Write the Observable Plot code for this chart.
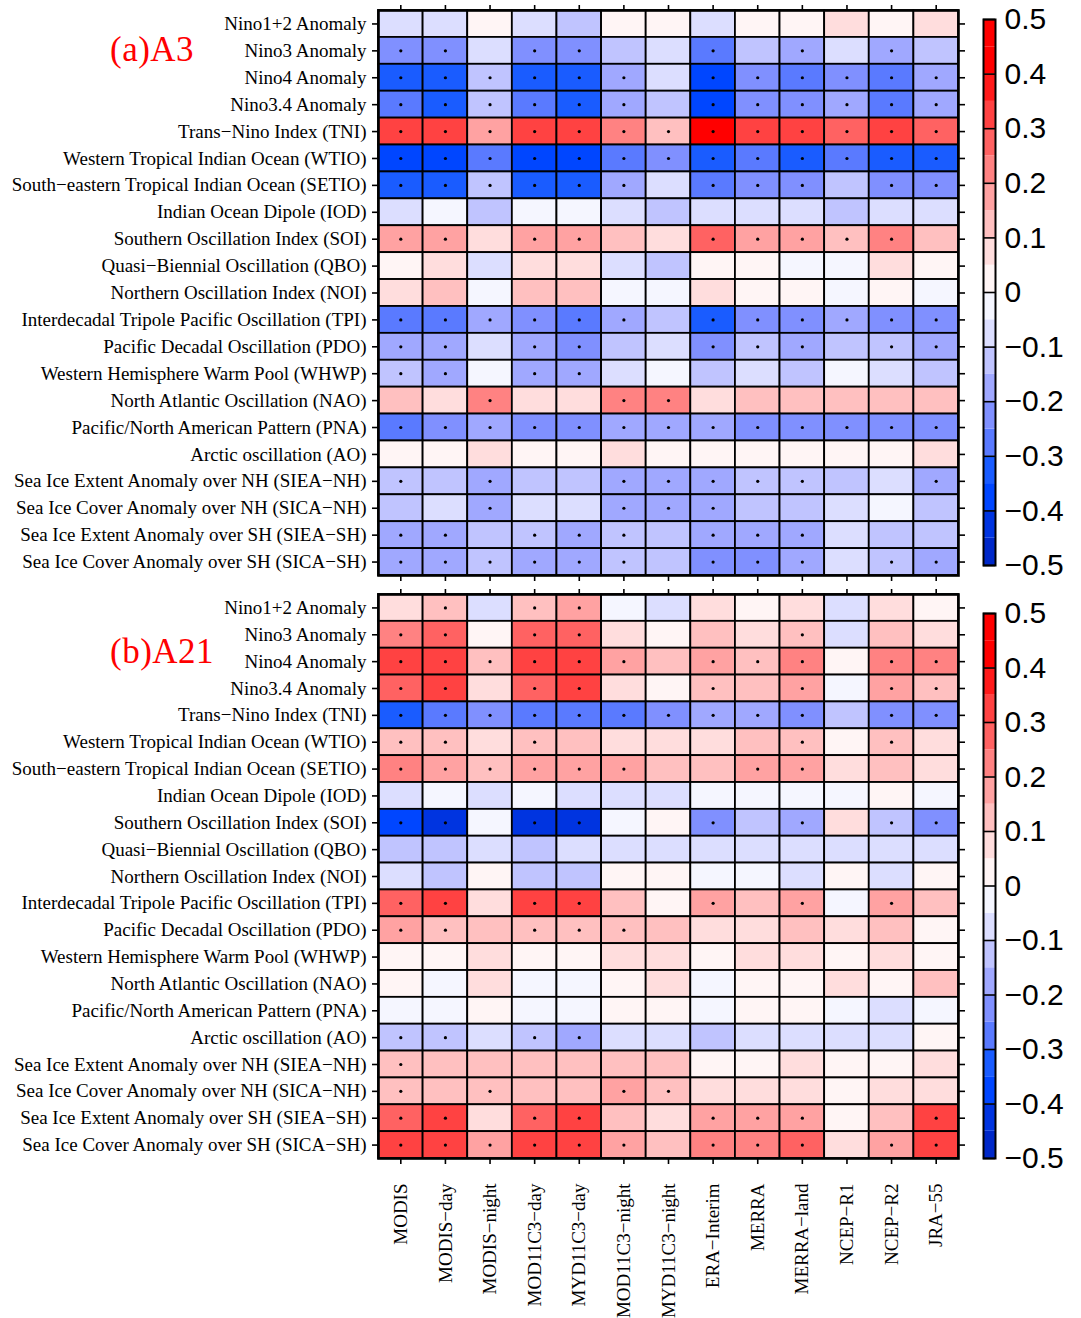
<!DOCTYPE html>
<html>
<head>
<meta charset="utf-8">
<script src="https://cdn.jsdelivr.net/npm/d3@7"></script>
<script src="https://cdn.jsdelivr.net/npm/@observablehq/plot@0.6"></script>
<style>
  body { margin: 0; background: #fff; }
  #fig { position: relative; width: 1081px; height: 1318px; overflow: hidden; background: #fff; }
  #fig > * { position: absolute; }
  .plabel { font-family: "Liberation Serif", "Times New Roman", serif; color: #ff0000; font-size: 35px; letter-spacing: 0.5px; line-height: 1; white-space: nowrap; }
</style>
</head>
<body>
<div id="fig"></div>
<script>
// ---------------- data ----------------
const datasets = ["MODIS", "MODIS−day", "MODIS−night", "MOD11C3−day", "MYD11C3−day", "MOD11C3−night",
  "MYD11C3−night", "ERA−Interim", "MERRA", "MERRA−land", "NCEP−R1", "NCEP−R2", "JRA−55"];

const indices = ["Nino1+2 Anomaly", "Nino3 Anomaly", "Nino4 Anomaly", "Nino3.4 Anomaly",
  "Trans−Nino Index (TNI)", "Western Tropical Indian Ocean (WTIO)", "South−eastern Tropical Indian Ocean (SETIO)",
  "Indian Ocean Dipole (IOD)", "Southern Oscillation Index (SOI)", "Quasi−Biennial Oscillation (QBO)",
  "Northern Oscillation Index (NOI)", "Interdecadal Tripole Pacific Oscillation (TPI)", "Pacific Decadal Oscillation (PDO)",
  "Western Hemisphere Warm Pool (WHWP)", "North Atlantic Oscillation (NAO)", "Pacific/North American Pattern (PNA)",
  "Arctic oscillation (AO)", "Sea Ice Extent Anomaly over NH (SIEA−NH)", "Sea Ice Cover Anomaly over NH (SICA−NH)",
  "Sea Ice Extent Anomaly over SH (SIEA−SH)", "Sea Ice Cover Anomaly over SH (SICA−SH)"];

// correlation values, rows = indices, columns = datasets
const a3Values = [
  [-0.07,-0.07, 0.02,-0.07,-0.12, 0.02, 0.02,-0.07, 0.02, 0.02, 0.07, 0.02, 0.07],
  [-0.23,-0.23,-0.07,-0.23,-0.22,-0.12,-0.07,-0.28,-0.13,-0.18,-0.07,-0.18,-0.13],
  [-0.33,-0.33,-0.13,-0.33,-0.33,-0.18,-0.07,-0.38,-0.23,-0.28,-0.23,-0.28,-0.18],
  [-0.28,-0.33,-0.13,-0.28,-0.33,-0.18,-0.13,-0.38,-0.23,-0.23,-0.18,-0.28,-0.18],
  [ 0.33, 0.33, 0.18, 0.33, 0.33, 0.23, 0.13, 0.42, 0.33, 0.33, 0.28, 0.33, 0.28],
  [-0.38,-0.38,-0.28,-0.38,-0.38,-0.28,-0.23,-0.33,-0.28,-0.33,-0.28,-0.33,-0.33],
  [-0.33,-0.33,-0.13,-0.33,-0.33,-0.18,-0.07,-0.28,-0.23,-0.23,-0.13,-0.23,-0.24],
  [-0.07,-0.02,-0.13,-0.02,-0.02,-0.07,-0.13,-0.07,-0.07,-0.07,-0.13,-0.07,-0.07],
  [ 0.18, 0.18, 0.07, 0.18, 0.18, 0.13, 0.07, 0.28, 0.18, 0.18, 0.13, 0.23, 0.13],
  [ 0.02, 0.07,-0.07, 0.07, 0.07,-0.07,-0.13, 0.02, 0.02,-0.02,-0.02, 0.07, 0.02],
  [ 0.07, 0.13,-0.02, 0.13, 0.13,-0.02,-0.02, 0.07, 0.02, 0.02,-0.02, 0.02,-0.02],
  [-0.28,-0.28,-0.18,-0.23,-0.28,-0.18,-0.13,-0.33,-0.23,-0.23,-0.18,-0.23,-0.23],
  [-0.18,-0.18,-0.07,-0.18,-0.23,-0.13,-0.07,-0.23,-0.13,-0.18,-0.13,-0.13,-0.18],
  [-0.13,-0.18,-0.02,-0.18,-0.18,-0.07,-0.02,-0.13,-0.07,-0.13,-0.02,-0.07,-0.13],
  [ 0.13, 0.07, 0.23, 0.07, 0.07, 0.23, 0.23, 0.07, 0.13, 0.13, 0.13, 0.13, 0.13],
  [-0.27,-0.23,-0.18,-0.23,-0.23,-0.18,-0.18,-0.18,-0.23,-0.23,-0.23,-0.23,-0.23],
  [ 0.02, 0.02, 0.07, 0.02, 0.02, 0.07, 0.02, 0.02, 0.02, 0.02, 0.02, 0.02, 0.07],
  [-0.13,-0.13,-0.18,-0.13,-0.13,-0.18,-0.18,-0.18,-0.13,-0.13,-0.13,-0.07,-0.18],
  [-0.13,-0.07,-0.18,-0.07,-0.07,-0.18,-0.18,-0.18,-0.13,-0.13,-0.07,-0.02,-0.13],
  [-0.18,-0.18,-0.13,-0.13,-0.18,-0.13,-0.13,-0.18,-0.18,-0.18,-0.07,-0.13,-0.13],
  [-0.18,-0.18,-0.13,-0.18,-0.18,-0.13,-0.13,-0.23,-0.24,-0.18,-0.07,-0.13,-0.18]
];
const a3Significant = [
  "0000000000000", "1101100101010", "1111110111111", "1111110111111", "1111111111111",
  "1111111111111", "1111110111011", "0000000000000", "1101100111110", "0000000000000",
  "0000000000000", "1111110111111", "1101100111011", "1101100000000", "0010011000000",
  "1111111111111", "0000000000000", "1010011111001", "0010011100000", "1101110111000",
  "1111110111011"
];

const a21Values = [
  [ 0.07, 0.13,-0.07, 0.13, 0.18,-0.02,-0.07, 0.07, 0.02, 0.07,-0.07, 0.07, 0.02],
  [ 0.23, 0.28, 0.02, 0.28, 0.28, 0.07, 0.02, 0.13, 0.07, 0.13,-0.07, 0.13, 0.07],
  [ 0.33, 0.33, 0.13, 0.33, 0.33, 0.18, 0.13, 0.18, 0.13, 0.23, 0.02, 0.23, 0.23],
  [ 0.28, 0.33, 0.07, 0.28, 0.33, 0.07, 0.02, 0.13, 0.13, 0.18,-0.02, 0.18, 0.13],
  [-0.33,-0.28,-0.23,-0.28,-0.28,-0.28,-0.23,-0.18,-0.18,-0.23,-0.13,-0.23,-0.24],
  [ 0.13, 0.13, 0.07, 0.13, 0.13, 0.07, 0.07, 0.07, 0.13, 0.13, 0.02, 0.13, 0.07],
  [ 0.23, 0.18, 0.13, 0.18, 0.18, 0.18, 0.13, 0.13, 0.18, 0.18, 0.07, 0.13, 0.07],
  [-0.07,-0.02,-0.07,-0.02,-0.07,-0.07,-0.07,-0.02,-0.02,-0.02,-0.02, 0.02,-0.02],
  [-0.38,-0.44,-0.02,-0.44,-0.44,-0.02, 0.02,-0.23,-0.13,-0.18, 0.07,-0.13,-0.23],
  [-0.13,-0.13,-0.07,-0.13,-0.07,-0.07,-0.07,-0.07,-0.07,-0.07,-0.07,-0.07,-0.07],
  [-0.07,-0.13, 0.02,-0.13,-0.13, 0.02, 0.02,-0.02,-0.02,-0.07, 0.02,-0.07, 0.02],
  [ 0.28, 0.33, 0.07, 0.33, 0.33, 0.13, 0.02, 0.18, 0.13, 0.18,-0.02, 0.18, 0.13],
  [ 0.18, 0.13, 0.13, 0.13, 0.13, 0.13, 0.13, 0.07, 0.07, 0.13, 0.07, 0.13, 0.02],
  [ 0.02, 0.02, 0.07, 0.02, 0.02, 0.07, 0.07, 0.02, 0.07, 0.07, 0.02, 0.07, 0.02],
  [ 0.02,-0.02, 0.07,-0.02,-0.02, 0.02, 0.07,-0.02, 0.02, 0.02, 0.07, 0.02, 0.13],
  [-0.02,-0.02, 0.02,-0.02,-0.02, 0.02, 0.02,-0.02, 0.02, 0.02,-0.02,-0.07,-0.02],
  [-0.13,-0.13,-0.07,-0.13,-0.18,-0.07,-0.07,-0.13,-0.07,-0.07,-0.07,-0.07, 0.02],
  [ 0.13, 0.13, 0.13, 0.13, 0.13, 0.13, 0.13, 0.02, 0.02, 0.07, 0.02, 0.02, 0.07],
  [ 0.13, 0.13, 0.13, 0.13, 0.13, 0.18, 0.13, 0.07, 0.07, 0.07, 0.02, 0.07, 0.07],
  [ 0.28, 0.33, 0.07, 0.28, 0.33, 0.13, 0.07, 0.18, 0.18, 0.18, 0.02, 0.13, 0.33],
  [ 0.33, 0.33, 0.18, 0.33, 0.33, 0.18, 0.13, 0.23, 0.23, 0.28, 0.07, 0.18, 0.33]
];
const a21Significant = [
  "0101100000000", "1101100001000", "1111110111011", "1101100101011", "1111111111011",
  "1101000001010", "1111110011000", "0000000000000", "1101100101011", "0000000000000",
  "0000000000000", "1101100101010", "1101110000000", "0000000000000", "0000000000000",
  "0000000000000", "1101100000000", "1000000000000", "1010011000000", "1101100111001",
  "1111110111011"
];

const colorbarTicks = [-0.5, -0.4, -0.3, -0.2, -0.1, 0, 0.1, 0.2, 0.3, 0.4, 0.5];
const levelBreaks = [-0.45, -0.4, -0.35, -0.3, -0.25, -0.2, -0.15, -0.1, -0.05, 0,
  0.05, 0.1, 0.15, 0.2, 0.25, 0.3, 0.35, 0.4, 0.45];
const levelColors = ["#0028c8", "#0034e0", "#0046ff", "#1a5cff", "#5a7aff", "#8090ff", "#a0a8ff",
  "#c0c4ff", "#dcdeff", "#f5f6ff", "#fff5f5", "#ffdddd", "#ffc0c0", "#ffa2a2", "#ff8282",
  "#ff6262", "#ff4242", "#ff1a1a", "#ff0000", "#ff0000"];

// ---------------- drawing ----------------
const fig = document.getElementById("fig");
const colorScale = {type: "threshold", domain: levelBreaks, range: levelColors};
const serif = "'Liberation Serif', 'Times New Roman', serif";

function tidy(values, sig) {
  return indices.flatMap((name, i) => datasets.map((d, j) => ({
    index: name, dataset: d, value: values[i][j], sig: sig[i][j] === "1"
  })));
}

function panel(values, sig, {top, height, marginBottom, bottomLabels}) {
  const data = tidy(values, sig);
  const chart = Plot.plot({
    width: 970, height,
    marginLeft: 378, marginRight: 12, marginTop: 10, marginBottom,
    x: {domain: datasets, padding: 0, round: false, label: null, axis: null},
    y: {domain: indices, padding: 0, round: false, label: null, axis: null},
    color: colorScale,
    style: {fontFamily: serif, fontSize: "19px", color: "#000", background: "transparent", overflow: "visible"},
    marks: [
      Plot.cell(data, {x: "dataset", y: "index", fill: "value", stroke: "#000", strokeWidth: 1.8, inset: 0}),
      Plot.dot(data.filter(d => d.sig), {x: "dataset", y: "index", r: 1.6, fill: "#000", stroke: null}),
      Plot.frame({stroke: "#000", strokeWidth: 2.6}),
      Plot.axisY({anchor: "left", tickSize: 6, tickPadding: 6, strokeWidth: 1.6, fontSize: 19}),
      Plot.axisY({anchor: "right", tickSize: 6, strokeWidth: 1.6, tickFormat: () => ""}),
      Plot.axisX({anchor: "top", tickSize: 6, strokeWidth: 1.6, tickFormat: () => ""}),
      bottomLabels
        ? Plot.axisX({anchor: "bottom", tickSize: 6, strokeWidth: 1.6, tickPadding: 19, tickRotate: -90, fontSize: 19})
        : Plot.axisX({anchor: "bottom", tickSize: 6, strokeWidth: 1.6, tickFormat: () => ""})
    ]
  });
  chart.style.left = "0px";
  chart.style.top = top + "px";
  fig.appendChild(chart);
}

function colorbar({top, height, marginTop, marginBottom}) {
  const edges = [-0.5, ...levelBreaks, 0.5];
  const bins = edges.slice(0, -1).map((lo, i) => ({lo, hi: edges[i + 1], mid: (lo + edges[i + 1]) / 2}));
  const chart = Plot.plot({
    width: 111, height,
    marginLeft: 13, marginRight: 86, marginTop, marginBottom,
    x: {domain: ["bar"], padding: 0, round: false, axis: null},
    y: {domain: [-0.5, 0.5], axis: null},
    color: colorScale,
    style: {fontFamily: "'Liberation Sans', Arial, sans-serif", background: "transparent", overflow: "visible"},
    marks: [
      Plot.barY(bins, {x: () => "bar", y1: "lo", y2: "hi", fill: "mid", inset: 0}),
      Plot.ruleY(colorbarTicks, {stroke: "#000", strokeWidth: 1.6}),
      Plot.frame({stroke: "#000", strokeWidth: 2}),
      Plot.axisY({anchor: "right", ticks: colorbarTicks, tickSize: 0, tickPadding: 9,
        tickFormat: d3.format(".1~f"), fontSize: 30, fill: "#000"})
    ]
  });
  chart.style.left = "970px";
  chart.style.top = top + "px";
  fig.appendChild(chart);
}

panel(a3Values, a3Significant, {top: 0, height: 585, marginBottom: 10, bottomLabels: false});
panel(a21Values, a21Significant, {top: 584, height: 734, marginBottom: 160, bottomLabels: true});
colorbar({top: 0, height: 585, marginTop: 19, marginBottom: 20});
colorbar({top: 584, height: 734, marginTop: 29, marginBottom: 160});

function label(text, left, top) {
  const d = document.createElement("div");
  d.className = "plabel";
  d.textContent = text;
  d.style.left = left + "px";
  d.style.top = top + "px";
  fig.appendChild(d);
}
label("(a)A3", 110, 32);
label("(b)A21", 110, 634);
</script>
</body>
</html>
